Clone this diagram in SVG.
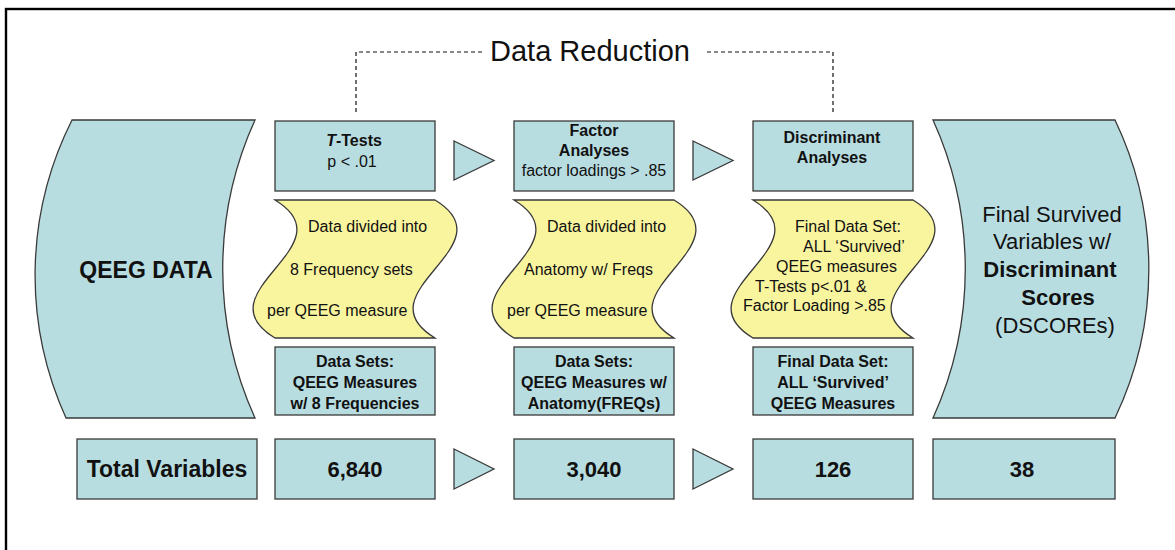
<svg xmlns="http://www.w3.org/2000/svg" width="1175" height="550" viewBox="0 0 1175 550">
<style>
.bg{fill:#ffffff}
.frame{fill:none;stroke:#000;stroke-width:2.4}
.blue{fill:#B8DDE1;stroke:#3a3a3a;stroke-width:1.3}
.yel{fill:#F9F59F;stroke:#3a3a3a;stroke-width:1.3}
.dash{fill:none;stroke:#111;stroke-width:1.2;stroke-dasharray:4 3}
text{font-family:"Liberation Sans",Arial,sans-serif;fill:#111}
.c{text-anchor:middle}
.b{font-weight:bold}
.t15{font-size:16px}
.t16{font-size:16px}
.t22{font-size:22px}
.t23{font-size:23px}
</style>
<rect class="bg" x="0" y="0" width="1175" height="550"/>
<rect class="frame" x="6" y="9" width="1190" height="560"/>

<g id="title">
  <text x="590" y="61" class="c" style="font-size:29px">Data Reduction</text>
</g>

<g id="connectors">
  <path class="dash" d="M356,112 V52 H482"/>
  <path class="dash" d="M707,52 H833 V112"/>
  <polygon class="blue" points="454,141 494,160.5 454,180"/>
  <polygon class="blue" points="693,141 733,160.5 693,180"/>
  <polygon class="blue" points="454,449 494,469 454,489"/>
  <polygon class="blue" points="693,449 733,469 693,489"/>
</g>

<g id="qeeg-data">
  <path class="blue" d="M72,120 H255 A360,360 0 0 0 255,418 H66 A345,345 0 0 1 72,120 Z"/>
  <text x="146" y="278" class="c b t23">QEEG DATA</text>
</g>

<g id="final-survived">
  <path class="blue" d="M933,120 H1115 A345,345 0 0 1 1115,418 H933 A360,360 0 0 0 933,120 Z"/>
  <text x="1052" y="222" class="c t22">Final Survived</text>
  <text x="1052" y="249" class="c t22">Variables w/</text>
  <text x="1050" y="277" class="c b t22">Discriminant</text>
  <text x="1058" y="305" class="c b t22">Scores</text>
  <text x="1055" y="333" class="c t22">(DSCOREs)</text>
</g>

<g id="ttests">
  <rect class="blue" x="275" y="121" width="160" height="70"/>
  <text x="354" y="146" class="c b t15"><tspan font-style="italic">T</tspan>-Tests</text>
  <text x="352" y="167" class="c t15">p &lt; .01</text>
</g>

<g id="factor">
  <rect class="blue" x="514" y="121" width="160" height="70"/>
  <text x="594" y="136" class="c b t15">Factor</text>
  <text x="594" y="156" class="c b t15">Analyses</text>
  <text x="594" y="176" class="c t15">factor loadings &gt; .85</text>
</g>

<g id="discriminant">
  <rect class="blue" x="753" y="121" width="160" height="70"/>
  <text x="832" y="143" class="c b t15">Discriminant</text>
  <text x="832" y="163" class="c b t15">Analyses</text>
</g>

<g id="note1">
  <path class="yel" d="M275,200 C351,246 199,292 275,338 H435 C359,292 511,246 435,200 Z"/>
  <text x="308" y="232" class="t16">Data divided into</text>
  <text x="290" y="275" class="t16">8 Frequency sets</text>
  <text x="267" y="316" class="t16">per QEEG measure</text>
</g>

<g id="note2">
  <path class="yel" d="M514,200 C590,246 438,292 514,338 H674 C598,292 750,246 674,200 Z"/>
  <text x="547" y="232" class="t16">Data divided into</text>
  <text x="524" y="275" class="t16">Anatomy w/ Freqs</text>
  <text x="507" y="316" class="t16">per QEEG measure</text>
</g>

<g id="note3">
  <path class="yel" d="M753,200 C829,246 677,292 753,338 H913 C837,292 989,246 913,200 Z"/>
  <text x="795" y="232" class="t16">Final Data Set:</text>
  <text x="803" y="252" class="t16">ALL ‘Survived’</text>
  <text x="776" y="272" class="t16">QEEG measures</text>
  <text x="755" y="292" class="t16">T-Tests p&lt;.01 &amp;</text>
  <text x="743" y="311" class="t16">Factor Loading &gt;.85</text>
</g>

<g id="datasets1">
  <rect class="blue" x="275" y="347" width="160" height="68"/>
  <text x="355" y="367" class="c b t16">Data Sets:</text>
  <text x="355" y="388" class="c b t16">QEEG Measures</text>
  <text x="355" y="409" class="c b t16">w/ 8 Frequencies</text>
</g>

<g id="datasets2">
  <rect class="blue" x="514" y="347" width="160" height="68"/>
  <text x="594" y="367" class="c b t16">Data Sets:</text>
  <text x="594" y="388" class="c b t16">QEEG Measures w/</text>
  <text x="594" y="409" class="c b t16">Anatomy(FREQs)</text>
</g>

<g id="datasets3">
  <rect class="blue" x="753" y="347" width="160" height="68"/>
  <text x="833" y="367" class="c b t16">Final Data Set:</text>
  <text x="833" y="388" class="c b t16">ALL ‘Survived’</text>
  <text x="833" y="409" class="c b t16">QEEG Measures</text>
</g>

<g id="total-variables">
  <rect class="blue" x="77" y="439" width="180" height="60"/>
  <text x="167" y="477" class="c b t23">Total Variables</text>
</g>
<g id="count-6840">
  <rect class="blue" x="275" y="439" width="160" height="60"/>
  <text x="355" y="477" class="c b t22">6,840</text>
</g>
<g id="count-3040">
  <rect class="blue" x="514" y="439" width="160" height="60"/>
  <text x="594" y="477" class="c b t22">3,040</text>
</g>
<g id="count-126">
  <rect class="blue" x="753" y="439" width="160" height="60"/>
  <text x="833" y="477" class="c b t22">126</text>
</g>
<g id="count-38">
  <rect class="blue" x="933" y="439" width="182" height="60"/>
  <text x="1022" y="477" class="c b t22">38</text>
</g>
</svg>
